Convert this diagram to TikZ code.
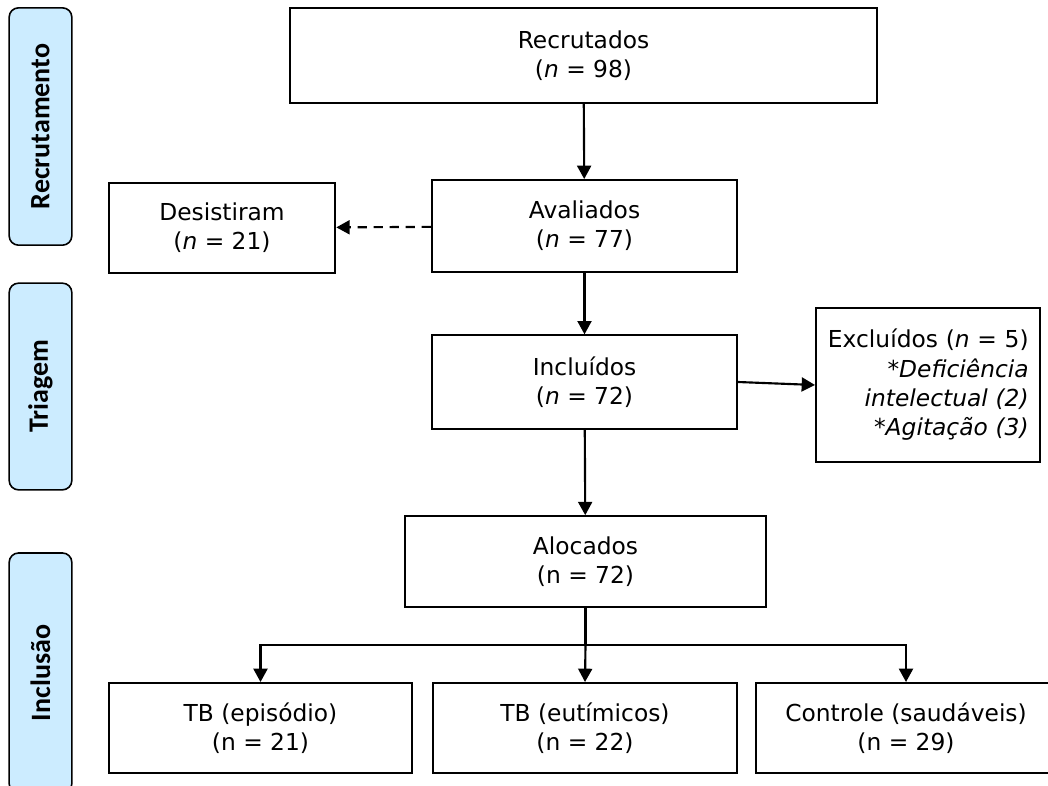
\documentclass[tikz,border=0pt]{standalone}
\usepackage{fontspec}
\setmainfont{DejaVu Sans}
\newfontfamily\sidefont{Carlito}
\usetikzlibrary{arrows.meta}
\definecolor{faseblue}{RGB}{204,236,255}

\begin{document}
\begin{tikzpicture}[x=0.75pt, y=-0.75pt,
  font=\fontsize{17.5}{22}\selectfont,
  box/.style={draw, line width=1.5pt, align=center, inner sep=0pt},
  fase/.style={draw, line width=1.2pt, rounded corners=7pt, fill=faseblue,
  rotate=90, inner sep=0pt, minimum height=47pt,
  font=\sidefont\bfseries\fontsize{21}{24}\selectfont},
  arrow/.style={-{Triangle[length=10pt,width=10.5pt]}, line width=1.6pt}]
\useasboundingbox (0,0) rectangle (1048,785);

% fases
\node[fase, minimum width=178pt] (recrut) at (40.5,126.5) {Recrutamento};
\node[fase, minimum width=155pt] (triagem) at (40.5,386.5) {Triagem};
\begin{scope}
\clip (0,0) rectangle (1048,785);
\node[fase, minimum width=180pt] (inclusao) at (40.5,673) {Inclusão};
\node[box, minimum width=225pt, minimum height=67.5pt] (ctl) at (906,728)
  {Controle (saudáveis)\\(n = 29)};
\end{scope}

% caixas
\node[box, minimum width=440pt, minimum height=71pt] (rec) at (583.5,55.5)
  {Recrutados\\(\textit{n} = 98)};
\node[box, minimum width=229pt, minimum height=69pt] (aval) at (584.5,226)
  {Avaliados\\(\textit{n} = 77)};
\node[box, minimum width=170pt, minimum height=67pt] (des) at (222,228)
  {Desistiram\\(\textit{n} = 21)};
\node[box, minimum width=229pt, minimum height=70pt] (inc) at (584.5,382)
  {Incluídos\\(\textit{n} = 72)};
\node[box, minimum width=168pt, minimum height=116pt, align=right,
  text width=151pt, inner xsep=8pt] (exc) at (928,385)
  {Excluídos (\textit{n} = 5)\\{*}\textit{Deficiência}\\\textit{intelectual (2)}\\\textit{*Agitação (3)}};
\node[box, minimum width=271pt, minimum height=68pt] (aloc) at (585.5,561.5)
  {Alocados\\(n = 72)};
\node[box, minimum width=227pt, minimum height=67.5pt] (tbe) at (260.5,728)
  {TB (episódio)\\(n = 21)};
\node[box, minimum width=228pt, minimum height=67.5pt] (tbu) at (585,728)
  {TB (eutímicos)\\(n = 22)};

% setas
\draw[arrow] (rec) -- (aval);
\draw[arrow, dash pattern=on 7pt off 5pt] (aval) -- (des);
\draw[arrow] (aval) -- (inc);
\draw[arrow] (inc.east) -- (exc.west);
\draw[arrow] (inc) -- (aloc);
\coordinate (split) at (585.5,645);
\draw[line width=1.6pt] (aloc.south) -- (split);
\draw[arrow] (split) -| (tbe.north);
\draw[arrow] (split) -- (tbu.north);
\draw[arrow] (split) -| (ctl.north);
\end{tikzpicture}
\end{document}
